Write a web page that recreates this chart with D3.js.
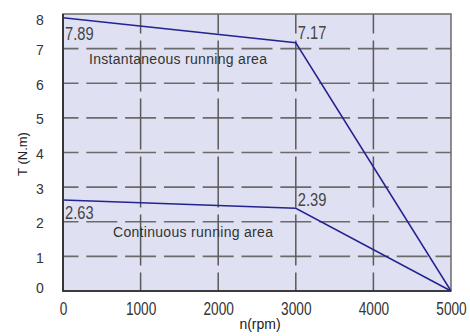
<!DOCTYPE html>
<html>
<head>
<meta charset="utf-8">
<script src="https://cdn.jsdelivr.net/npm/d3@7"></script>
<style>
  body { margin: 0; background: #fff; }
  .num { font-family: "Liberation Sans", Arial, sans-serif; fill: #333; }
  .area { font-family: "Liberation Sans", Arial, sans-serif; font-size: 14px; letter-spacing: 0.3px; fill: #333; }
  .axisTitle { font-family: "Liberation Sans", Arial, sans-serif; font-size: 14px; fill: #222; }
</style>
</head>
<body>
<div id="chart"></div>
<script>

//data
var xTicks = [0, 1000, 2000, 3000, 4000, 5000];
var yTicks = [0, 1, 2, 3, 4, 5, 6, 7, 8];
var speed = [0, 3000, 5000];
var instantTorque = [7.89, 7.17, 0];
var contTorque = [2.63, 2.39, 0];
var areaLabels = ["Instantaneous running area", "Continuous running area"];

//set margins
var margin = {top: 14, right: 19, bottom: 45, left: 63};
var width = 470 - margin.left - margin.right;
var height = 336 - margin.top - margin.bottom;

var svg = d3.select("#chart")
            .append("svg")
            .attr("width", 470)
            .attr("height", 336)
            .append("g")
            .attr("transform", "translate(" + margin.left + "," + margin.top + ")");

//scales
var xScale = d3.scaleLinear().domain([0, 5000]).range([0, width]);
var yScale = d3.scaleLinear().domain([0, 8]).range([height, 0]);

//background
svg.append("rect")
    .attr("width", width)
    .attr("height", height)
    .style("fill", "#dfe1f2");

//horizontal grid
var hStep = xScale(500);
svg.selectAll(".hgrid")
    .data(yTicks.slice(1, -1))
    .enter()
    .append("line")
    .attr("x1", 0)
    .attr("x2", width)
    .attr("y1", function(d) {return yScale(d);})
    .attr("y2", function(d) {return yScale(d);})
    .style("stroke", "#6b6b6b")
    .style("stroke-width", 1.6)
    .style("stroke-dasharray", (hStep - 7.8) + "," + 7.8)
    .style("stroke-dashoffset", (hStep - 7.8) / 2);

//vertical grid
svg.selectAll(".vgrid")
    .data(xTicks.slice(1, -1))
    .enter()
    .append("line")
    .attr("x1", function(d) {return xScale(d);})
    .attr("x2", function(d) {return xScale(d);})
    .attr("y1", 0)
    .attr("y2", height)
    .style("stroke", "#5a5a5a")
    .style("stroke-width", 1.5)
    .style("stroke-dasharray", "51,7")
    .style("stroke-dashoffset", 31.5);

//border
svg.append("rect")
    .attr("width", width)
    .attr("height", height)
    .style("fill", "none")
    .style("stroke", "#6a6a6a")
    .style("stroke-width", 1.5);

svg.append("path")
    .attr("d", "M0,0V" + height + "H" + width)
    .style("fill", "none")
    .style("stroke", "#222")
    .style("stroke-width", 1.6);

//curves
var line = d3.line()
             .x(function(d) {return xScale(d[0]);})
             .y(function(d) {return yScale(d[1]);});

[instantTorque, contTorque].forEach(function(t) {
  svg.append("path")
      .datum(speed.map(function(s, i) {return [s, t[i]];}))
      .attr("d", line)
      .style("fill", "none")
      .style("stroke", "#24248f")
      .style("stroke-width", 1.5);
});

//x axis (narrow digits)
var xAxis = svg.append("g")
    .attr("transform", "translate(0," + height + ")")
    .call(d3.axisBottom(xScale)
            .tickValues(xTicks)
            .tickSize(0)
            .tickPadding(11)
            .tickFormat(d3.format("d")));
xAxis.select(".domain").remove();
xAxis.selectAll("text")
    .attr("class", "num")
    .style("font-size", "18px")
    .attr("transform", "scale(0.76,1)");

//y axis
var yAxis = svg.append("g")
    .call(d3.axisLeft(yScale)
            .tickValues(yTicks)
            .tickSize(0)
            .tickPadding(23));
yAxis.select(".domain").remove();
yAxis.selectAll("text")
    .attr("class", "num")
    .style("font-size", "14px")
    .attr("text-anchor", "middle")
    .attr("dy", function(d) {
      if (d == 8) return "0.78em";
      if (d == 0) return "0.1em";
      return "0.42em";
    });

//value labels
var valueLabels = [
  {x: speed[0], y: instantTorque[0], dy: 22},
  {x: speed[1], y: instantTorque[1], dy: -4},
  {x: speed[0], y: contTorque[0], dy: 19},
  {x: speed[1], y: contTorque[1], dy: -2}
];
svg.selectAll(".val")
    .data(valueLabels)
    .enter()
    .append("text")
    .attr("class", "num")
    .attr("transform", function(d) {
      return "translate(" + (xScale(d.x) + 2) + "," + (yScale(d.y) + d.dy) + ") scale(0.84,1)";
    })
    .style("font-size", "17.5px")
    .style("fill", "#444")
    .text(function(d) {return d.y.toFixed(2);});

//area labels
svg.append("text")
    .attr("class", "area")
    .attr("x", 26)
    .attr("y", yScale(7) + 15)
    .text(areaLabels[0]);

svg.append("text")
    .attr("class", "area")
    .attr("x", 50)
    .attr("y", yScale(2) + 15)
    .text(areaLabels[1]);

//axis titles
svg.append("text")
    .attr("class", "axisTitle")
    .attr("x", 260 - margin.left)
    .attr("y", height + 38)
    .style("text-anchor", "middle")
    .text("n(rpm)");

svg.append("text")
    .attr("class", "axisTitle")
    .attr("transform", "rotate(-90)")
    .attr("x", -(154 - margin.top))
    .attr("y", -36)
    .style("text-anchor", "middle")
    .style("font-size", "13px")
    .text("T (N.m)");

</script>
</body>
</html>
